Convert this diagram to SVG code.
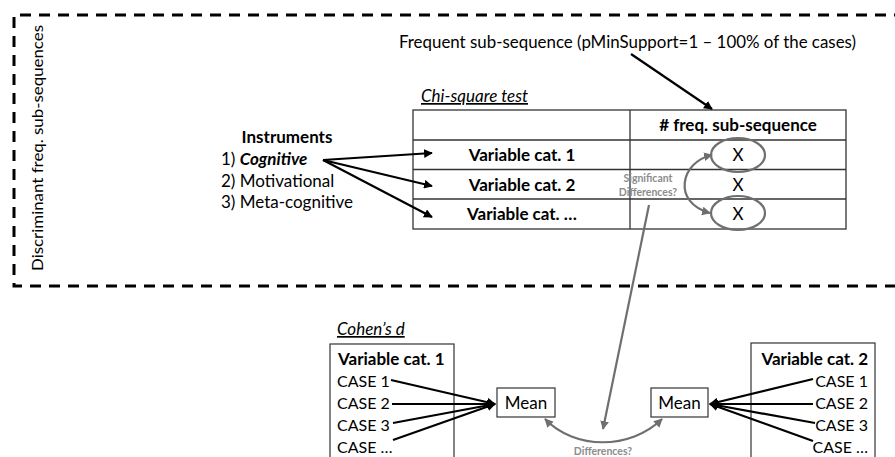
<svg xmlns="http://www.w3.org/2000/svg" width="895" height="457" viewBox="0 0 895 457">
<style>
  text { font-family: "Lato", "Liberation Sans", sans-serif; fill: #000; }
  .t15 { font-size: 17px; }
  .c { font-size: 16px; }
  .b { font-weight: bold; }
  .i { font-style: italic; }
  .u { text-decoration: underline; }
  .gtxt { fill: #8c8c8c; font-weight: bold; font-size: 10.5px; }
  .cell { fill: none; stroke: #333; stroke-width: 1.3; }
  .blk { fill: none; stroke: #000; stroke-width: 2.2; }
  .gry { fill: none; stroke: #6f6f6f; stroke-width: 2.2; }
  .box { fill: #fff; stroke: #333; stroke-width: 1.2; }
</style>
<defs>
  <marker id="ab" viewBox="0 0 10 10" refX="9" refY="5" markerWidth="4" markerHeight="4" orient="auto-start-reverse" markerUnits="strokeWidth">
    <path d="M0,0 L10,5 L0,10 z" fill="#000"/>
  </marker>
  <marker id="ag" viewBox="0 0 10 10" refX="9" refY="5" markerWidth="4" markerHeight="4" orient="auto-start-reverse" markerUnits="strokeWidth">
    <path d="M0,0 L10,5 L0,10 z" fill="#6f6f6f"/>
  </marker>
</defs>
<rect x="0" y="0" width="895" height="457" fill="#fff"/>

<g id="frame">
  <path d="M 905 15 L 14 15 L 14 286 L 905 286" fill="none" stroke="#000" stroke-width="3" stroke-dasharray="11 8"/>
  <text class="t15" style="font-size:16px" transform="translate(43,148) rotate(-90)" text-anchor="middle" textLength="246" lengthAdjust="spacingAndGlyphs">Discriminant freq. sub-sequences</text>
</g>

<g id="frequent-label">
  <text class="t15" x="399" y="48" textLength="457" lengthAdjust="spacingAndGlyphs">Frequent sub-sequence (pMinSupport=1 – 100% of the cases)</text>
</g>

<g id="instruments">
  <text class="t15 b" x="287" y="143" text-anchor="middle">Instruments</text>
  <text class="t15" x="221" y="165">1) <tspan class="b i">Cognitive</tspan></text>
  <text class="t15" x="221" y="186.5">2) Motivational</text>
  <text class="t15" x="221" y="208">3) Meta-cognitive</text>
</g>

<g id="chi-square-table">
  <text class="t15 i u" x="421" y="102">Chi-square test</text>
  <rect class="cell" x="413" y="110" width="433" height="119"/>
  <line class="cell" x1="413" y1="140" x2="846" y2="140"/>
  <line class="cell" x1="413" y1="169.5" x2="846" y2="169.5"/>
  <line class="cell" x1="413" y1="199" x2="846" y2="199"/>
  <line class="cell" x1="630" y1="110" x2="630" y2="229"/>
  <text class="t15 b" x="738" y="131" text-anchor="middle">#  freq. sub-sequence</text>
  <text class="t15 b" x="522" y="161" text-anchor="middle">Variable cat. 1</text>
  <text class="t15 b" x="522" y="190.5" text-anchor="middle">Variable cat. 2</text>
  <text class="t15 b" x="522" y="220" text-anchor="middle">Variable cat. …</text>
  <text class="t15" x="738" y="161" text-anchor="middle">X</text>
  <text class="t15" x="738" y="190.5" text-anchor="middle">X</text>
  <text class="t15" x="738" y="219.5" text-anchor="middle">X</text>
  <ellipse class="gry" cx="738" cy="155" rx="27" ry="17"/>
  <ellipse class="gry" cx="738" cy="213" rx="27" ry="17"/>
  <text class="gtxt" x="648" y="182" text-anchor="middle">Significant</text>
  <text class="gtxt" x="648" y="196" text-anchor="middle">Differences?</text>
</g>

<g id="cohens-d">
  <text class="t15 i u" x="337" y="335">Cohen’s d</text>
</g>

<g id="var-cat-1">
  <rect class="box" x="330" y="344" width="124" height="130"/>
  <text class="t15 b" x="338" y="365">Variable cat. 1</text>
  <text class="c" x="337" y="387">CASE 1</text>
  <text class="c" x="337" y="409">CASE 2</text>
  <text class="c" x="337" y="431">CASE 3</text>
  <text class="c" x="337" y="453">CASE …</text>
</g>

<g id="var-cat-2">
  <rect class="box" x="751" y="343" width="124" height="130"/>
  <text class="t15 b" x="868" y="365" text-anchor="end">Variable cat. 2</text>
  <text class="c" x="868" y="387" text-anchor="end">CASE 1</text>
  <text class="c" x="868" y="409" text-anchor="end">CASE 2</text>
  <text class="c" x="868" y="431" text-anchor="end">CASE 3</text>
  <text class="c" x="868" y="453" text-anchor="end">CASE …</text>
</g>

<g id="mean-1">
  <rect class="box" x="497" y="388" width="58" height="29"/>
  <text class="t15" x="526" y="408.5" text-anchor="middle">Mean</text>
</g>

<g id="mean-2">
  <rect class="box" x="651" y="388" width="57" height="29"/>
  <text class="t15" x="679.5" y="408.5" text-anchor="middle">Mean</text>
</g>

<g id="diff-label">
  <text class="gtxt" x="603" y="455" text-anchor="middle">Differences?</text>
</g>

<g id="connectors">
  <line class="blk" x1="631" y1="54" x2="712" y2="109" marker-end="url(#ab)"/>
  <line class="blk" x1="323" y1="160" x2="432" y2="153" marker-end="url(#ab)"/>
  <line class="blk" x1="323" y1="160" x2="432" y2="186" marker-end="url(#ab)"/>
  <line class="blk" x1="323" y1="160" x2="432" y2="217" marker-end="url(#ab)"/>
  <path class="gry" d="M 712 155 C 680 162 672 203 710 213" marker-start="url(#ag)" marker-end="url(#ag)"/>
  <line class="gry" x1="649" y1="205" x2="603" y2="429" marker-end="url(#ag)"/>
  <line class="blk" x1="391" y1="380" x2="495" y2="404" marker-end="url(#ab)"/>
  <line class="blk" x1="392" y1="404" x2="495" y2="404" marker-end="url(#ab)"/>
  <line class="blk" x1="393" y1="423" x2="495" y2="404" marker-end="url(#ab)"/>
  <line class="blk" x1="393" y1="440" x2="495" y2="404" marker-end="url(#ab)"/>
  <line class="blk" x1="813" y1="379" x2="710" y2="404" marker-end="url(#ab)"/>
  <line class="blk" x1="813" y1="404" x2="710" y2="404" marker-end="url(#ab)"/>
  <line class="blk" x1="815" y1="423" x2="710" y2="404" marker-end="url(#ab)"/>
  <line class="blk" x1="813" y1="441" x2="710" y2="404" marker-end="url(#ab)"/>
  <path class="gry" d="M 545 419 C 575 450 630 450 662 419" marker-start="url(#ag)" marker-end="url(#ag)"/>
</g>
</svg>
